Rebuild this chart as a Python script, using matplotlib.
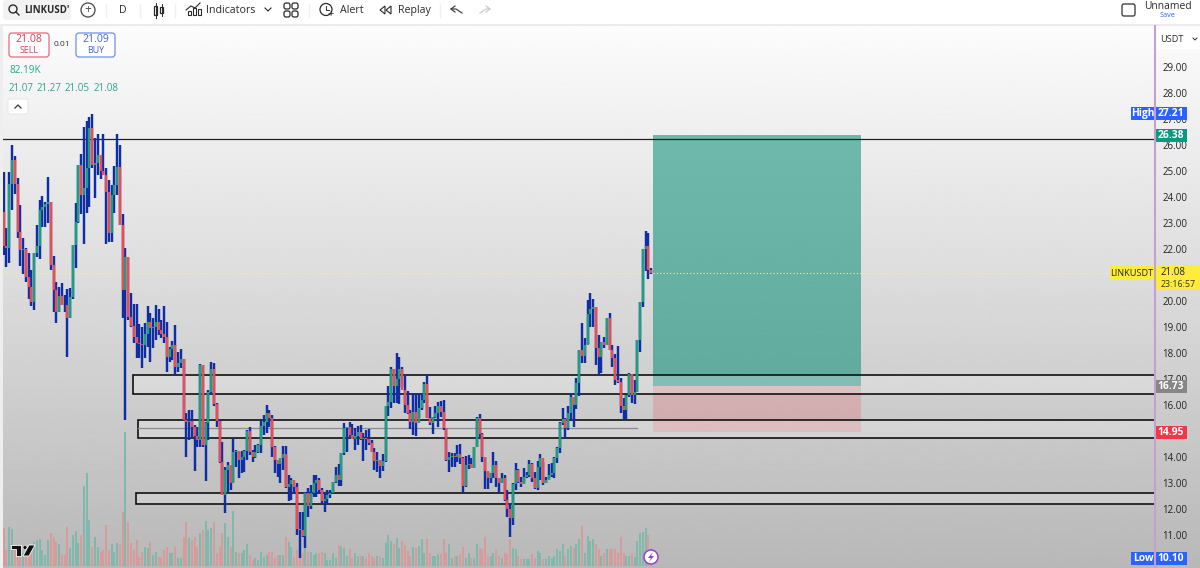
import numpy as np
import matplotlib
matplotlib.use('Agg')
import matplotlib.pyplot as plt
from matplotlib.patches import Rectangle, FancyBboxPatch, Circle, Polygon

plt.rcParams['font.family'] = ['Open Sans', 'DejaVu Sans']

first_open = 23.44

closes = [
    22.1, 22.05, 24.5, 25.42, 24.5, 22.66, 21.96, 22.0, 20.93, 20.55,
    19.97, 21.83, 22.1, 23.5, 23.62, 23.75, 23.82, 21.38, 20.42, 19.59,
    20.2, 19.85, 19.84, 19.33, 20.17, 22.15, 23.05, 25.23, 24.08, 24.33,
    25.1, 26.64, 25.23, 25.3, 25.6, 25.0, 24.85, 24.2, 22.6, 24.08,
    24.46, 25.17, 22.92, 20.42, 21.7, 19.4, 19.05, 18.6, 18.4, 18.35,
    18.3, 18.75, 19.2, 18.95, 19.0, 19.2, 18.9, 18.75, 18.6, 17.86,
    18.15, 18.3, 17.47, 17.6, 17.76, 15.42, 15.35, 15.4, 15.15, 14.8,
    14.65, 17.54, 14.46, 15.3, 16.5, 17.4, 16.05, 15.4, 13.8, 12.55,
    13.5, 13.7, 13.0, 14.2, 14.25, 13.9, 14.0, 14.25, 15.0, 14.2,
    14.0, 14.2, 14.45, 15.2, 15.35, 15.7, 15.5, 14.4, 13.9, 13.75,
    13.95, 14.1, 12.85, 12.95, 13.1, 12.85, 11.25, 11.2, 10.95, 12.6,
    12.1, 12.6, 13.0, 13.1, 12.75, 12.32, 12.4, 12.55, 12.6, 13.05,
    13.3, 13.1, 14.14, 15.1, 15.15, 14.85, 14.7, 14.8, 14.95, 14.7,
    14.75, 14.7, 14.55, 14.2, 13.85, 13.9, 13.65, 13.85, 15.97, 16.1,
    17.4, 16.75, 17.0, 17.4, 16.58, 16.0, 15.7, 15.35, 15.75, 15.3,
    15.9, 16.2, 16.8, 15.49, 15.3, 15.55, 15.7, 15.95, 15.75, 15.1,
    13.9, 14.0, 14.05, 14.0, 14.1, 13.95, 12.9, 13.7, 13.75, 13.57,
    14.4, 15.5, 14.9, 14.0, 13.45, 13.2, 13.4, 13.7, 13.2, 13.0,
    13.2, 12.35, 12.0, 11.65, 12.95, 13.5, 13.05, 12.95, 13.25, 13.3,
    13.75, 13.2, 12.8, 13.6, 13.95, 13.0, 13.1, 13.3, 13.4, 13.95,
    14.35, 15.3, 15.45, 15.1, 15.7, 16.3, 16.0, 16.85, 18.1, 17.9,
    18.3, 19.5, 19.7, 19.76, 18.18, 17.85, 18.44, 18.3, 19.33, 18.12,
    17.8, 16.95, 16.9, 15.95, 15.8, 16.38, 17.2, 16.4, 16.5, 18.5,
    19.97, 21.99, 22.1, 21.2, 21.08,
]

highs = [
    24.97, 22.8, 24.97, 26.0, 25.58, 24.72, 23.69, 22.41, 22.03, 21.83,
    21.19, 21.83, 22.92, 23.9, 24.05, 23.82, 24.76, 23.82, 21.73, 20.74,
    20.55, 20.7, 20.23, 20.45, 20.49, 22.15, 23.76, 25.23, 25.65, 26.7,
    26.93, 27.09, 27.21, 26.26, 26.42, 25.17, 26.41, 25.13, 24.65, 24.46,
    25.19, 26.41, 26.0, 23.33, 22.05, 21.7, 20.3, 19.9, 19.9, 19.1,
    19.0, 19.14, 19.8, 19.52, 19.33, 19.85, 19.7, 19.27, 19.8, 19.2,
    18.24, 18.48, 19.07, 18.05, 18.14, 17.76, 15.68, 15.8, 15.8, 15.23,
    15.17, 17.56, 17.54, 15.36, 16.58, 17.67, 17.6, 16.06, 15.42, 14.59,
    13.63, 13.82, 13.57, 14.72, 14.27, 14.2, 14.24, 14.27, 15.04, 15.17,
    14.27, 14.46, 14.5, 15.39, 15.62, 16.0, 15.8, 15.6, 14.42, 13.88,
    13.76, 14.42, 14.42, 13.3, 13.2, 12.92, 12.99, 11.9, 11.9, 12.67,
    12.8, 12.92, 13.3, 13.3, 13.18, 12.8, 12.6, 12.73, 12.73, 13.05,
    13.63, 13.73, 14.17, 15.3, 15.14, 15.33, 15.27, 15.1, 15.19, 15.23,
    14.91, 15.04, 15.06, 14.65, 14.33, 14.2, 13.88, 14.12, 15.97, 16.73,
    17.47, 17.4, 17.99, 17.83, 17.47, 17.2, 16.55, 15.8, 16.45, 16.38,
    16.47, 16.47, 16.9, 17.15, 15.94, 15.55, 15.96, 16.13, 16.15, 16.18,
    15.1, 14.18, 14.14, 14.14, 14.46, 14.49, 14.01, 14.04, 14.08, 13.95,
    14.4, 15.53, 15.65, 14.91, 14.01, 13.44, 13.37, 14.18, 13.86, 13.18,
    13.37, 13.31, 12.73, 12.22, 12.99, 13.76, 13.53, 13.24, 13.56, 13.44,
    13.88, 13.76, 13.44, 13.86, 14.12, 13.82, 13.24, 13.73, 13.76, 14.01,
    14.37, 15.36, 15.9, 15.49, 15.96, 16.47, 16.26, 17.05, 18.12, 19.17,
    18.56, 20.04, 20.29, 20.06, 19.76, 18.69, 18.44, 18.63, 19.33, 19.55,
    18.31, 17.95, 18.27, 17.03, 16.26, 16.38, 17.22, 17.15, 16.96, 18.5,
    19.97, 21.99, 22.7, 22.63, 21.27,
]

lows = [
    21.77, 21.3, 21.45, 23.5, 24.1, 22.41, 21.36, 21.04, 20.74, 20.08,
    19.81, 19.65, 21.7, 21.6, 22.86, 22.83, 23.0, 21.19, 19.59, 19.14,
    19.59, 19.84, 19.59, 17.86, 19.33, 20.08, 21.28, 23.0, 23.35, 22.18,
    23.4, 23.63, 25.1, 23.95, 24.85, 24.68, 24.85, 22.18, 22.28, 22.28,
    23.37, 24.08, 22.92, 19.33, 15.42, 19.27, 19.0, 18.4, 17.8, 17.8,
    17.44, 17.8, 18.24, 17.64, 18.18, 18.5, 18.7, 18.56, 18.37, 17.28,
    17.67, 17.73, 17.15, 17.28, 17.41, 15.42, 14.0, 14.65, 14.78, 13.46,
    14.4, 14.4, 14.4, 13.09, 14.65, 16.39, 15.98, 15.14, 13.76, 12.6,
    11.86, 12.67, 12.73, 12.99, 13.63, 13.18, 13.37, 13.44, 13.89, 14.08,
    13.82, 13.95, 14.14, 14.17, 14.85, 14.91, 15.17, 14.0, 13.37, 13.24,
    12.99, 13.5, 12.8, 12.31, 12.35, 12.6, 11.0, 10.1, 10.94, 10.49,
    11.7, 12.0, 12.47, 12.47, 12.6, 12.2, 11.9, 12.22, 12.41, 12.6,
    12.99, 12.9, 12.9, 14.08, 14.2, 14.72, 14.68, 14.27, 14.46, 14.65,
    13.86, 14.27, 14.46, 14.2, 13.5, 13.44, 13.2, 13.47, 13.82, 15.58,
    15.87, 16.06, 16.06, 16.04, 16.7, 15.7, 15.65, 15.06, 14.85, 14.8,
    15.49, 15.81, 16.06, 15.49, 15.23, 14.87, 15.49, 15.14, 15.55, 15.04,
    13.86, 13.41, 13.6, 13.63, 13.82, 13.73, 12.67, 12.86, 13.53, 13.56,
    13.56, 14.37, 14.72, 13.82, 12.76, 12.76, 12.99, 13.18, 12.83, 12.63,
    12.99, 12.32, 11.7, 10.94, 11.38, 12.73, 12.99, 12.83, 13.05, 13.18,
    13.22, 13.05, 12.76, 12.73, 13.12, 12.92, 12.99, 13.14, 13.22, 13.2,
    13.78, 14.14, 15.23, 14.68, 15.04, 15.42, 15.17, 15.83, 16.35, 17.6,
    17.6, 18.33, 18.99, 19.0, 17.54, 17.15, 17.22, 18.18, 18.31, 18.12,
    17.47, 16.77, 16.83, 15.68, 15.45, 15.45, 16.32, 16.09, 16.04, 16.51,
    18.05, 19.78, 21.15, 20.83, 21.05,
]

volumes = [
    38, 16, 39, 37, 19, 13, 19, 13, 16, 13, 13, 24, 26, 27, 16, 11, 26, 33, 29, 24,
    22, 11, 11, 39, 18, 31, 35, 23, 31, 80, 93, 46, 19, 29, 19, 14, 16, 41, 16, 22,
    14, 23, 22, 54, 134, 44, 23, 16, 26, 9, 14, 19, 18, 24, 11, 14, 9, 9, 16, 19,
    13, 13, 19, 8, 8, 29, 44, 28, 26, 29, 19, 33, 36, 45, 36, 38, 44, 13, 19, 33,
    43, 29, 19, 55, 14, 13, 13, 16, 22, 11, 6, 8, 6, 14, 9, 11, 14, 14, 8, 11,
    11, 11, 29, 24, 19, 9, 16, 8, 13, 18, 14, 14, 11, 13, 13, 14, 13, 6, 6, 13,
    8, 21, 20, 18, 10, 17, 8, 13, 10, 10, 10, 8, 13, 10, 8, 10, 10, 8, 23, 31,
    25, 22, 28, 18, 25, 21, 15, 10, 19, 18, 20, 27, 13, 27, 13, 10, 10, 12, 12, 27,
    13, 22, 8, 10, 10, 12, 19, 8, 13, 8, 8, 22, 18, 17, 29, 10, 10, 13, 17, 10,
    8, 13, 12, 27, 18, 17, 10, 7, 7, 7, 7, 12, 8, 15, 13, 7, 7, 10, 8, 10,
    17, 15, 22, 10, 17, 20, 18, 22, 27, 40, 13, 30, 25, 27, 22, 17, 10, 13, 17, 17,
    17, 17, 13, 29, 13, 10, 10, 12, 9, 25, 33, 34, 38, 31, 5,
]

zone_starts = [46.7, 48.5, 47.8]
zone_tops = [17.15, 15.44, 12.6]
zone_bottoms = [16.42, 14.75, 12.19]

resistance_price = 26.24
mid_line_price = 15.1
mid_line_end = 228.9
last_price = 21.08

pos_start = 234.7
pos_end = 309.8
target_price = 26.38
entry_price = 16.73
stop_price = 14.95

price_ticks = list(range(11, 30))

BLUE = '#0f2ea3'
UP = '#1f9e7d'
DOWN = '#ee4c52'

opens = [first_open] + closes[:-1]
idx = np.arange(len(closes))
candle_colors = [UP if c >= o else DOWN for o, c in zip(opens, closes)]
vol_colors = ['#7db8ac' if c >= o else '#d89a98' for o, c in zip(opens, closes)]

W, H = 1200, 568
fig = plt.figure(figsize=(W / 100, H / 100), dpi=100, facecolor='white')


def rect_px(left, top, right, bottom):
    return [left / W, 1 - bottom / H, (right - left) / W, (bottom - top) / H]


# gradient background
ax_bg = fig.add_axes([0, 0, 1, 1], zorder=0)
grad = np.linspace(252, 184, 256).reshape(-1, 1)
ax_bg.imshow(grad, cmap='gray', vmin=0, vmax=255, aspect='auto', extent=[0, W, H, 25])
ax_bg.set_xlim(0, W)
ax_bg.set_ylim(H, 0)
ax_bg.axis('off')

chart_rect = rect_px(3, 25, 1154, 568)
xlim = ((3 - 3.7) / 2.767, (1154 - 3.7) / 2.767)
ylim = (29 - (568 - 67) / 26, 29 + (67 - 25) / 26)

# volume pane
ax_vol = fig.add_axes(chart_rect, zorder=1)
ax_vol.patch.set_alpha(0)
ax_vol.vlines(idx, 0, volumes, colors=vol_colors, linewidth=1.35)
ax_vol.set_xlim(xlim)
ax_vol.set_ylim(-2, 541)
ax_vol.axis('off')

# candles
ax = fig.add_axes(chart_rect, zorder=2)
ax.patch.set_alpha(0)
ax.set_xlim(xlim)
ax.set_ylim(ylim)
for s in ax.spines.values():
    s.set_visible(False)
ax.set_xticks([])
ax.yaxis.tick_right()
ax.set_yticks(price_ticks)
ax.set_yticklabels([f'{p:.2f}' for p in price_ticks], fontsize=7, color='#222222')
ax.tick_params(axis='y', length=0, pad=6)

ax.add_patch(Rectangle((pos_start, entry_price), pos_end - pos_start, target_price - entry_price,
                       facecolor='#0a8f78', alpha=0.56, linewidth=0, zorder=1))
ax.add_patch(Rectangle((pos_start, stop_price), pos_end - pos_start, entry_price - stop_price,
                       facecolor='#f23645', alpha=0.2, linewidth=0, zorder=1))

ax.axhline(last_price, color='#f7efa0', linewidth=0.8, linestyle=(0, (1, 2)), zorder=1.5)
ax.axhline(resistance_price, color='#222222', linewidth=0.9, zorder=2)

for start, top, bottom in zip(zone_starts, zone_tops, zone_bottoms):
    ax.add_patch(Rectangle((start, bottom), xlim[1] + 5 - start, top - bottom,
                           facecolor=(1, 1, 1, 0.22), edgecolor='#111111', linewidth=1.2, zorder=2))
ax.plot([zone_starts[1], mid_line_end], [mid_line_price, mid_line_price],
        color='#8c8c8c', linewidth=0.9, zorder=2)

ax.vlines(idx, lows, highs, colors=BLUE, linewidth=1.75, zorder=3)
ax.vlines(idx, opens, closes, colors=candle_colors, linewidth=1.75, zorder=4)

# price tags on the axis, sized in pixels across and price units up
ytrans = ax.get_yaxis_transform()


def frac(px):
    return (px - 3) / 1151


def tag(price, label, bg, left=1155, right=1187, fg='white', bold=True, size=7.4):
    ax.add_patch(Rectangle((frac(left), price - 0.25), frac(right) - frac(left), 0.5, transform=ytrans,
                           facecolor=bg, edgecolor='none', clip_on=False, zorder=9))
    ax.text(frac((left + right) / 2), price - 0.01, label, transform=ytrans, ha='center', va='center',
            fontsize=size, color=fg, fontweight='bold' if bold else 'normal', clip_on=False, zorder=10)


tag(27.21, 'High', '#2962ff', left=1131, right=1155)
tag(27.21, '27.21', '#2962ff')
tag(target_price, '26.38', '#089981')
tag(entry_price, '16.73', '#868686')
tag(stop_price, '14.95', '#f23645')
tag(10.10, 'Low', '#2962ff', left=1131, right=1155)
tag(10.10, '10.10', '#2962ff')
tag(last_price, 'LINKUSDT', '#ffeb3b', left=1110, right=1154, fg='#222222', bold=False, size=6.6)

# yellow last price box
ax.add_patch(Rectangle((frac(1155), 20.42), frac(1200) - frac(1155), 0.93, transform=ytrans,
                       facecolor='#ffeb3b', edgecolor='none', clip_on=False, zorder=9))
ax.text(frac(1161), last_price, '21.08', transform=ytrans, va='center', fontsize=7, color='#222222',
        clip_on=False, zorder=10)
ax.text(frac(1161), 20.62, '23:16:57', transform=ytrans, va='center', fontsize=6.4, color='#333333',
        clip_on=False, zorder=10)

# toolbar and overlay
ui = fig.add_axes([0, 0, 1, 1], zorder=3)
ui.patch.set_alpha(0)
ui.set_xlim(0, W)
ui.set_ylim(H, 0)
ui.axis('off')

ui.add_patch(Rectangle((0, 0), W, 24, facecolor='white', edgecolor='none'))
ui.add_patch(Rectangle((0, 24), W, 2, facecolor='#ececec', edgecolor='none'))
ui.add_patch(Rectangle((0, 24), 3, H - 24, facecolor='#eeeeee', edgecolor='none'))
ui.add_patch(FancyBboxPatch((3, 0), 68, 20, boxstyle='round,pad=0,rounding_size=3',
                            facecolor='#f2f2f2', edgecolor='none'))
ui.plot([1155, 1155], [26, H], color='#c59fce', linewidth=1.5)
ui.add_patch(Rectangle((1157, 30), 43, 19, facecolor='white', edgecolor='none'))

for sx in [106, 140, 175, 309, 440]:
    ui.plot([sx, sx], [4, 17], color='#efefef', linewidth=1)

TXT = '#2a2a2a'
ui.text(24, 10.5, "LINKUSD'", fontsize=6.9, fontweight='bold', color=TXT, va='center')
ui.add_patch(Circle((13, 9), 4, fill=False, edgecolor=TXT, linewidth=1))
ui.plot([16, 19], [12, 15], color=TXT, linewidth=1)
ui.add_patch(Circle((88, 10), 7, fill=False, edgecolor='#444444', linewidth=0.9))
ui.text(88, 10, '+', fontsize=8.5, color='#444444', ha='center', va='center')
ui.text(123, 10.5, 'D', fontsize=7.6, color=TXT, ha='center', va='center')

# candle icon
ui.add_patch(Rectangle((154, 6), 3, 9, fill=False, edgecolor=TXT, linewidth=0.9))
ui.plot([155.5, 155.5], [3, 18], color=TXT, linewidth=0.7, zorder=1)
ui.add_patch(Rectangle((160, 7), 3, 6, fill=False, edgecolor=TXT, linewidth=0.9))
ui.plot([161.5, 161.5], [4, 16], color=TXT, linewidth=0.7, zorder=1)

# indicators icon
for bx, bh in zip([188, 193, 198], [4, 7, 6]):
    ui.add_patch(Rectangle((bx, 15 - bh), 3, bh, fill=False, edgecolor=TXT, linewidth=0.8))
ui.plot([186, 191, 195, 200], [10, 6, 8, 3], color=TXT, linewidth=0.8)
ui.text(206, 10.5, 'Indicators', fontsize=7.7, color=TXT, va='center')
ui.plot([265, 268, 271], [8, 11, 8], color=TXT, linewidth=0.8)

for cx in [287, 295]:
    for cy in [6, 14]:
        ui.add_patch(FancyBboxPatch((cx - 3, cy - 3), 6, 6, boxstyle='round,pad=0,rounding_size=2',
                                    fill=False, edgecolor=TXT, linewidth=0.9))

# alert icon
ui.add_patch(Circle((326, 9.5), 6, fill=False, edgecolor=TXT, linewidth=0.9))
ui.plot([326, 326, 329], [6, 10, 10], color=TXT, linewidth=0.7)
ui.text(331, 14, '+', fontsize=8, color=TXT, ha='center', va='center')
ui.text(340, 10.5, 'Alert', fontsize=7.7, color=TXT, va='center')

# replay icon
ui.add_patch(Polygon([[385, 6], [380, 10], [385, 14]], closed=True, fill=False, edgecolor=TXT, linewidth=0.8))
ui.add_patch(Polygon([[391, 6], [386, 10], [391, 14]], closed=True, fill=False, edgecolor=TXT, linewidth=0.8))
ui.text(398, 10.5, 'Replay', fontsize=7.7, color=TXT, va='center')

# undo / redo
ui.plot([462, 456, 451, 455], [13, 9, 9, 6], color='#444444', linewidth=0.9)
ui.plot([451, 455], [9, 12], color='#444444', linewidth=0.9)
ui.plot([480, 486, 490, 486], [13, 9, 9, 6], color='#cccccc', linewidth=0.9)
ui.plot([490, 486], [9, 12], color='#cccccc', linewidth=0.9)

ui.add_patch(FancyBboxPatch((1122, 4), 13, 12, boxstyle='round,pad=0,rounding_size=2',
                            fill=False, edgecolor='#444444', linewidth=1))
ui.text(1168, 6.5, 'Unnamed', fontsize=7.4, color=TXT, ha='center', va='center')
ui.text(1168, 15.5, 'Save', fontsize=5.2, color='#2962ff', ha='center', va='center')

ui.text(1160, 39, 'USDT', fontsize=6.6, color=TXT, va='center')
ui.plot([1193, 1195, 1197], [38, 40, 38], color=TXT, linewidth=0.7)

# order buttons
ui.add_patch(FancyBboxPatch((9, 33), 40, 24, boxstyle='round,pad=0,rounding_size=3',
                            facecolor='white', edgecolor='#e56a7c', linewidth=0.9))
ui.text(29, 40, '21.08', fontsize=7.6, color='#d83a55', ha='center', va='center')
ui.text(29, 50.5, 'SELL', fontsize=6.4, color='#d83a55', ha='center', va='center')
ui.text(62, 45, '0.01', fontsize=6, color='#333333', ha='center', va='center')
ui.add_patch(FancyBboxPatch((76, 33), 39, 24, boxstyle='round,pad=0,rounding_size=3',
                            facecolor='white', edgecolor='#6f8ef0', linewidth=0.9))
ui.text(96, 40, '21.09', fontsize=7.6, color='#3f63e0', ha='center', va='center')
ui.text(96, 50.5, 'BUY', fontsize=6.4, color='#3f63e0', ha='center', va='center')

GREEN_TXT = '#2ba58f'
ui.text(9, 70.5, '82.19K', fontsize=7.2, color=GREEN_TXT, va='center')
for tx, s in zip([9, 37, 65, 94], ['21.07', '21.27', '21.05', '21.08']):
    ui.text(tx, 88.5, s, fontsize=7, color=GREEN_TXT, va='center')

ui.add_patch(FancyBboxPatch((8, 99), 20, 15, boxstyle='round,pad=0,rounding_size=2',
                            facecolor='white', edgecolor='#e6e6e6', linewidth=0.7))
ui.plot([15, 18, 21], [108, 105, 108], color='#333333', linewidth=0.9)

# tradingview logo
ui.add_patch(Polygon([[11, 545], [21, 545], [21, 556], [16, 556], [16, 549], [11, 549]], closed=True,
                     facecolor='#111111', edgecolor='white', linewidth=0.6))
ui.add_patch(Circle((25, 547.5), 2, facecolor='#111111', edgecolor='white', linewidth=0.4))
ui.add_patch(Polygon([[29, 545], [35, 545], [29, 556], [23, 556]], closed=True,
                     facecolor='#111111', edgecolor='white', linewidth=0.6))

# lightning badge
ui.add_patch(Circle((651, 557), 7, facecolor='white', edgecolor='#9c3fc8', linewidth=1.1))
ui.add_patch(Polygon([[653, 552], [648, 558], [651, 558], [649, 562], [654, 556], [651, 556]], closed=True,
                     facecolor='#8e3fc0', edgecolor='none'))

fig.savefig('out.png', dpi=100)
